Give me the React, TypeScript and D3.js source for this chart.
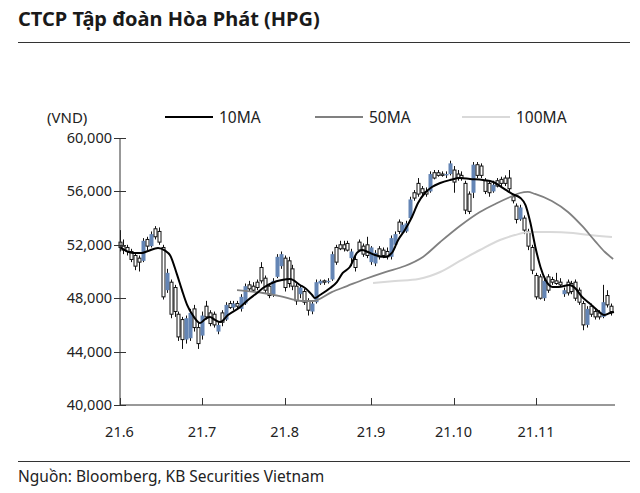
import React from "react";
import * as d3 from "d3";

// Daily candles [open, high, low, close] in thousand VND, Jun 1 – late Nov 2021
const candles: number[][] = [
  [52.2, 53.1, 51.5, 51.8], [51.9, 52.4, 51.3, 51.6], [51.8, 52.0, 51.2, 51.5], [51.5, 51.7, 50.7, 50.9],
  [51.2, 51.4, 50.1, 50.4], [51.0, 51.2, 50.0, 50.7], [50.8, 52.5, 50.7, 52.3], [52.4, 52.6, 51.6, 51.9],
  [51.9, 53.0, 51.8, 52.8], [53.2, 53.4, 52.4, 52.6], [53.0, 53.3, 52.0, 52.2], [51.8, 52.0, 47.9, 48.1],
  [48.6, 50.2, 48.4, 49.9], [49.2, 49.4, 46.5, 46.8], [48.8, 49.0, 46.6, 47.0], [46.8, 47.0, 44.8, 45.1],
  [46.4, 46.6, 44.2, 44.9], [44.9, 46.7, 44.6, 46.5], [45.0, 47.2, 44.8, 46.9], [47.2, 47.5, 45.5, 45.8],
  [45.8, 46.2, 44.2, 44.6], [45.2, 47.0, 44.9, 46.7],
  // July
  [47.4, 47.8, 46.4, 46.6], [46.9, 47.1, 45.9, 46.1], [46.8, 47.0, 45.8, 46.0], [45.5, 46.2, 45.3, 46.0],
  [46.9, 47.1, 45.9, 46.2], [46.4, 47.7, 46.3, 47.5], [47.6, 47.8, 47.2, 47.3], [47.3, 47.8, 47.1, 47.6],
  [47.6, 47.8, 47.2, 47.4], [47.2, 48.3, 47.0, 48.1], [47.6, 49.1, 47.5, 48.9], [49.0, 49.3, 48.5, 48.7],
  [48.9, 49.2, 48.5, 48.6], [49.2, 49.4, 48.6, 48.8], [50.3, 50.7, 49.1, 49.3], [49.5, 49.7, 48.4, 48.6],
  [48.9, 49.1, 48.0, 48.2], [48.3, 49.5, 48.1, 49.3], [49.6, 51.3, 49.5, 51.1], [50.4, 51.5, 50.2, 51.3],
  [51.0, 51.2, 48.5, 48.8],
  // August
  [50.8, 51.1, 48.8, 49.1], [50.2, 50.5, 48.6, 48.9], [48.9, 49.1, 47.5, 47.8], [48.3, 49.0, 48.0, 48.8],
  [48.5, 48.7, 47.5, 47.7], [47.8, 48.0, 46.7, 47.1], [47.0, 47.8, 46.8, 47.6], [47.7, 49.4, 47.6, 49.2],
  [49.1, 49.4, 49.0, 49.3], [49.3, 49.4, 49.0, 49.2], [49.2, 49.5, 49.1, 49.3], [49.4, 51.5, 49.3, 51.3],
  [51.8, 52.0, 50.5, 50.7], [52.0, 52.3, 51.6, 51.7], [52.0, 52.3, 51.5, 51.7], [52.1, 52.3, 51.5, 51.6],
  [51.0, 51.7, 50.4, 51.5], [50.9, 51.2, 50.0, 50.3], [52.2, 52.4, 51.5, 51.6], [51.9, 52.1, 51.1, 51.3],
  [52.0, 52.6, 51.0, 51.2],
  // September
  [50.7, 51.9, 50.5, 51.8], [50.6, 51.6, 50.4, 51.4], [51.7, 51.9, 50.9, 51.1], [51.6, 51.8, 51.0, 51.2],
  [51.5, 51.8, 50.9, 51.1], [51.1, 52.7, 50.9, 52.5], [52.0, 53.0, 51.8, 52.8], [53.7, 53.9, 52.8, 53.0],
  [52.9, 53.7, 52.8, 53.5], [53.0, 53.8, 52.9, 53.6], [54.0, 55.6, 53.9, 55.4], [55.9, 56.1, 55.3, 55.5],
  [56.6, 57.0, 55.6, 55.8], [56.2, 56.4, 55.7, 55.9], [56.0, 56.3, 55.6, 55.8], [56.0, 57.5, 55.9, 57.3],
  [57.4, 57.6, 56.9, 57.0], [57.4, 57.6, 57.1, 57.2], [57.3, 57.5, 57.1, 57.2], [57.2, 57.5, 57.0, 57.3],
  [57.3, 58.3, 57.2, 58.1],
  // October
  [57.6, 57.9, 55.9, 56.7], [57.3, 57.6, 56.8, 57.0], [57.2, 57.5, 56.8, 57.0], [56.6, 56.8, 54.3, 54.6],
  [55.8, 56.0, 54.3, 54.5], [55.9, 58.2, 55.5, 58.0], [58.0, 58.2, 57.0, 57.2], [57.9, 58.1, 57.0, 57.2],
  [56.8, 57.0, 55.8, 56.0], [56.6, 56.8, 55.6, 55.9], [56.0, 56.8, 55.9, 56.5], [56.8, 57.0, 56.3, 56.4],
  [56.9, 57.1, 56.4, 56.6], [57.0, 57.2, 56.4, 56.6], [57.0, 57.6, 56.0, 56.2], [55.6, 55.8, 55.1, 55.3],
  [54.9, 55.1, 53.6, 53.9], [53.9, 55.0, 53.8, 54.8], [54.0, 54.2, 52.8, 53.1], [53.0, 53.2, 51.6, 51.9],
  [51.8, 52.0, 49.8, 50.1],
  // November
  [49.7, 49.9, 47.9, 48.1], [49.6, 49.8, 47.9, 48.0], [48.0, 49.5, 47.8, 49.3], [49.6, 49.8, 48.4, 48.6],
  [49.4, 49.6, 49.0, 49.2], [49.3, 49.9, 49.0, 49.1], [49.2, 49.5, 48.9, 49.0], [48.3, 48.8, 48.1, 48.6],
  [49.2, 49.4, 48.2, 48.4], [49.1, 49.3, 48.3, 48.5], [49.2, 49.4, 47.8, 48.0], [48.6, 48.8, 47.5, 47.7],
  [47.6, 47.8, 45.6, 46.0], [46.0, 47.4, 45.8, 47.2], [47.4, 47.6, 46.6, 46.8], [47.0, 47.2, 46.4, 46.6],
  [46.9, 47.1, 46.4, 46.6], [46.6, 49.0, 46.5, 47.7], [48.2, 48.6, 47.3, 47.5], [47.4, 47.6, 46.7, 47.0],
];

// Moving averages: [trading-day index, value in thousand VND]
const ma10: number[][] = [
  [0, 51.84], [3.4, 51.39], [5.7, 51.39], [7.3, 51.54], [9.8, 51.76], [11.6, 51.56], [12.9, 51.2],
  [14.6, 49.8], [15.9, 48.6], [17.2, 47.5], [18.7, 46.7], [20.5, 46.14], [21.8, 46.44], [23.0, 46.59],
  [24.3, 46.37], [25.6, 46.22], [27.6, 46.74], [30.7, 47.34], [32.7, 47.87], [35.0, 48.39], [36.5, 48.76],
  [38.8, 49.14], [41.3, 49.36], [43.4, 49.44], [45.9, 48.99], [47.2, 48.76], [49.0, 48.24], [49.7, 48.01],
  [51.0, 48.24], [53.6, 48.76], [55.3, 49.21], [56.8, 49.89], [58.6, 50.34], [60.4, 51.39], [61.7, 51.61],
  [63.2, 51.46], [65.0, 51.24], [67.5, 51.09], [69.3, 51.39], [70.9, 52.36], [72.6, 53.11], [74.4, 54.08],
  [75.95, 55.13], [77.7, 55.88], [79.5, 56.33], [81.6, 56.63], [84.1, 56.85], [86.6, 57.0], [89.2, 56.93],
  [92.5, 56.85], [95.1, 56.7], [97.6, 56.25], [99.9, 55.81], [102.0, 55.51], [103.3, 54.98], [104.5, 53.71],
  [105.8, 51.84], [107.1, 50.34], [108.4, 49.36], [110.2, 48.84], [111.7, 48.84], [114.5, 48.99],
  [115.9, 48.76], [117.7, 48.09], [119.5, 47.64], [121.5, 47.12], [123.3, 46.74], [124.8, 46.89], [125.8, 46.97],
];
const ma50: number[][] = [
  [29.9, 48.61], [36.5, 48.39], [40.8, 48.16], [46.4, 47.79], [49.2, 47.79], [54.0, 48.46], [57.9, 48.91],
  [62.5, 49.44], [67.6, 49.96], [72.6, 50.41], [77.2, 51.09], [81.6, 52.21], [86.6, 53.41], [91.7, 54.46],
  [96.1, 55.13], [99.4, 55.58], [101.9, 55.88], [103.9, 55.96], [105.7, 55.81], [110.0, 55.28],
  [114.1, 54.46], [117.7, 53.41], [121.0, 52.28], [123.5, 51.46], [125.6, 50.94],
];
const ma100: number[][] = [
  [64.5, 49.14], [70.1, 49.29], [76.1, 49.44], [79.0, 49.66], [81.6, 49.96], [86.6, 50.79], [91.7, 51.61],
  [96.8, 52.36], [100.6, 52.73], [104.5, 52.96], [109.5, 52.96], [115.4, 52.88], [119.7, 52.73], [125.3, 52.58],
];

const yTicks = [40000, 44000, 48000, 52000, 56000, 60000];
const monthIdx = [0, 21, 42, 64, 85, 106];
const monthLabels = ["21.6", "21.7", "21.8", "21.9", "21.10", "21.11"];
const legendItems = ["10MA", "50MA", "100MA"];

const FONT = "'Noto Sans', 'DejaVu Sans', sans-serif";
const UP = "#6485b5";

export default function App() {
  const W = 640, H = 493;
  const x = d3.scaleLinear().domain([0, 125]).range([119.5, 610.8]);
  const y = d3.scaleLinear().domain([40000, 60000]).range([405, 138]);
  const line = d3
    .line<number[]>()
    .x((d) => x(d[0]))
    .y((d) => y(d[1] * 1000))
    .curve(d3.curveMonotoneX);
  const fmt = d3.format(",");
  const bw = 3;
  const legendColors = ["#000000", "#808080", "#d9d9d9"];
  const legendX = [165, 315, 462];

  return (
    <svg width={W} height={H} style={{ position: "absolute", left: 0, top: 0, background: "#fff" }} fontFamily={FONT}>
      <text x={18} y={26} fontSize={20} fontWeight={700} fill="#1a1a1a">
        CTCP Tập đoàn Hòa Phát (HPG)
      </text>
      <line x1={18} x2={630} y1={42.5} y2={42.5} stroke="#333" strokeWidth={1} />

      <text x={47} y={122.5} fontSize={15} fill="#222">(VND)</text>
      {legendItems.map((t, i) => (
        <g key={t}>
          <line x1={legendX[i]} x2={legendX[i] + 48} y1={117} y2={117} stroke={legendColors[i]} strokeWidth={2} />
          <text x={legendX[i] + 54} y={122.5} fontSize={15.5} fill="#222">{t}</text>
        </g>
      ))}

      {/* candles */}
      {candles.map((c, i) => {
        const [o, h, l, cl] = c.map((v) => v * 1000);
        const up = cl > o;
        const cx = Math.round(x(i)) + 0.5;
        const top = y(Math.max(o, cl));
        const bot = y(Math.min(o, cl));
        return (
          <g key={i}>
            <line x1={cx} x2={cx} y1={y(h)} y2={y(l)} stroke="#111" strokeWidth={1} />
            {up ? (
              <rect x={cx - bw / 2 - 0.5} y={top} width={bw + 1} height={Math.max(1, bot - top)} fill={UP} />
            ) : (
              <rect x={cx - bw / 2} y={top} width={bw} height={Math.max(1, bot - top)} fill="#fff" stroke="#111" strokeWidth={1} />
            )}
          </g>
        );
      })}

      <path d={line(ma100) || ""} fill="none" stroke="#d9d9d9" strokeWidth={2} />
      <path d={line(ma50) || ""} fill="none" stroke="#808080" strokeWidth={1.8} />
      <path d={line(ma10) || ""} fill="none" stroke="#000" strokeWidth={2} />

      {/* axes */}
      <line x1={120} x2={120} y1={y(60000)} y2={y(40000)} stroke="#333" strokeWidth={1} />
      <line x1={120} x2={615} y1={405} y2={405} stroke="#333" strokeWidth={1} />
      {yTicks.map((t) => (
        <g key={t}>
          <line x1={114} x2={126} y1={Math.round(y(t)) + 0.5} y2={Math.round(y(t)) + 0.5} stroke="#333" />
          <text x={112} y={y(t) + 5} textAnchor="end" fontSize={14.5} fill="#222">{fmt(t)}</text>
        </g>
      ))}
      {monthIdx.map((m, i) => (
        <g key={m}>
          <line x1={Math.round(x(m)) + 0.5} x2={Math.round(x(m)) + 0.5} y1={398} y2={405} stroke="#333" />
          <text x={x(m)} y={436.5} textAnchor="middle" fontSize={14.5} fill="#222">{monthLabels[i]}</text>
        </g>
      ))}

      <line x1={18} x2={630} y1={461.5} y2={461.5} stroke="#333" strokeWidth={1} />
      <text x={18} y={482} fontSize={15.5} fill="#222">Nguồn: Bloomberg, KB Securities Vietnam</text>
    </svg>
  );
}
